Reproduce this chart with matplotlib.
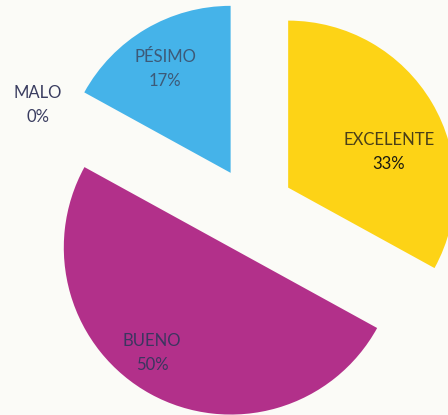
import numpy as np
import matplotlib
matplotlib.use('Agg')
import matplotlib.pyplot as plt

# Data
categorias = ['EXCELENTE', 'BUENO', 'MALO', 'PÉSIMO']
porcentajes = [33, 50, 0, 17]
colores = ['#FDD316', '#B2308A', '#FFFFFF', '#45B3E9']

plt.rcParams['font.family'] = ['Lato', 'DejaVu Sans']

fig = plt.figure(figsize=(4.48, 4.15), dpi=100)
fig.patch.set_facecolor('#FBFBF7')
ax = fig.add_axes([0, 0, 1, 1])

# pixel-like coordinates, y pointing up
W, H = 448, 415
radio = 167
centro = (252, H - 209)

wedges, _ = ax.pie(porcentajes, colors=colores, startangle=90,
                   counterclock=False, radius=radio, center=centro,
                   explode=[42, 44, 0, 42], frame=True,
                   wedgeprops=dict(linewidth=0))

ax.set_xlim(0, W)
ax.set_ylim(0, H)
ax.set_aspect('equal')
ax.axis('off')

# label positions (pixel coords from top-left)
pos = {'EXCELENTE': (389, 152), 'BUENO': (152, 353),
       'MALO': (38, 105), 'PÉSIMO': (165, 69)}
col_txt = {'EXCELENTE': '#4a3f18', 'BUENO': '#3c3560',
           'MALO': '#3a3d60', 'PÉSIMO': '#3d5a78'}
col_pct = {'EXCELENTE': '#1a1a10', 'BUENO': '#3c3560',
           'MALO': '#3a3d60', 'PÉSIMO': '#3d5a78'}

for cat, p in zip(categorias, porcentajes):
    x, y = pos[cat]
    ax.text(x, H - y + 12, cat, ha='center', va='center', fontsize=12,
            fontweight='normal', color=col_txt[cat])
    ax.text(x, H - y - 12, f'{p}%', ha='center', va='center', fontsize=12,
            fontweight='normal', color=col_pct[cat])

fig.savefig('out.png', dpi=100, facecolor=fig.get_facecolor())
